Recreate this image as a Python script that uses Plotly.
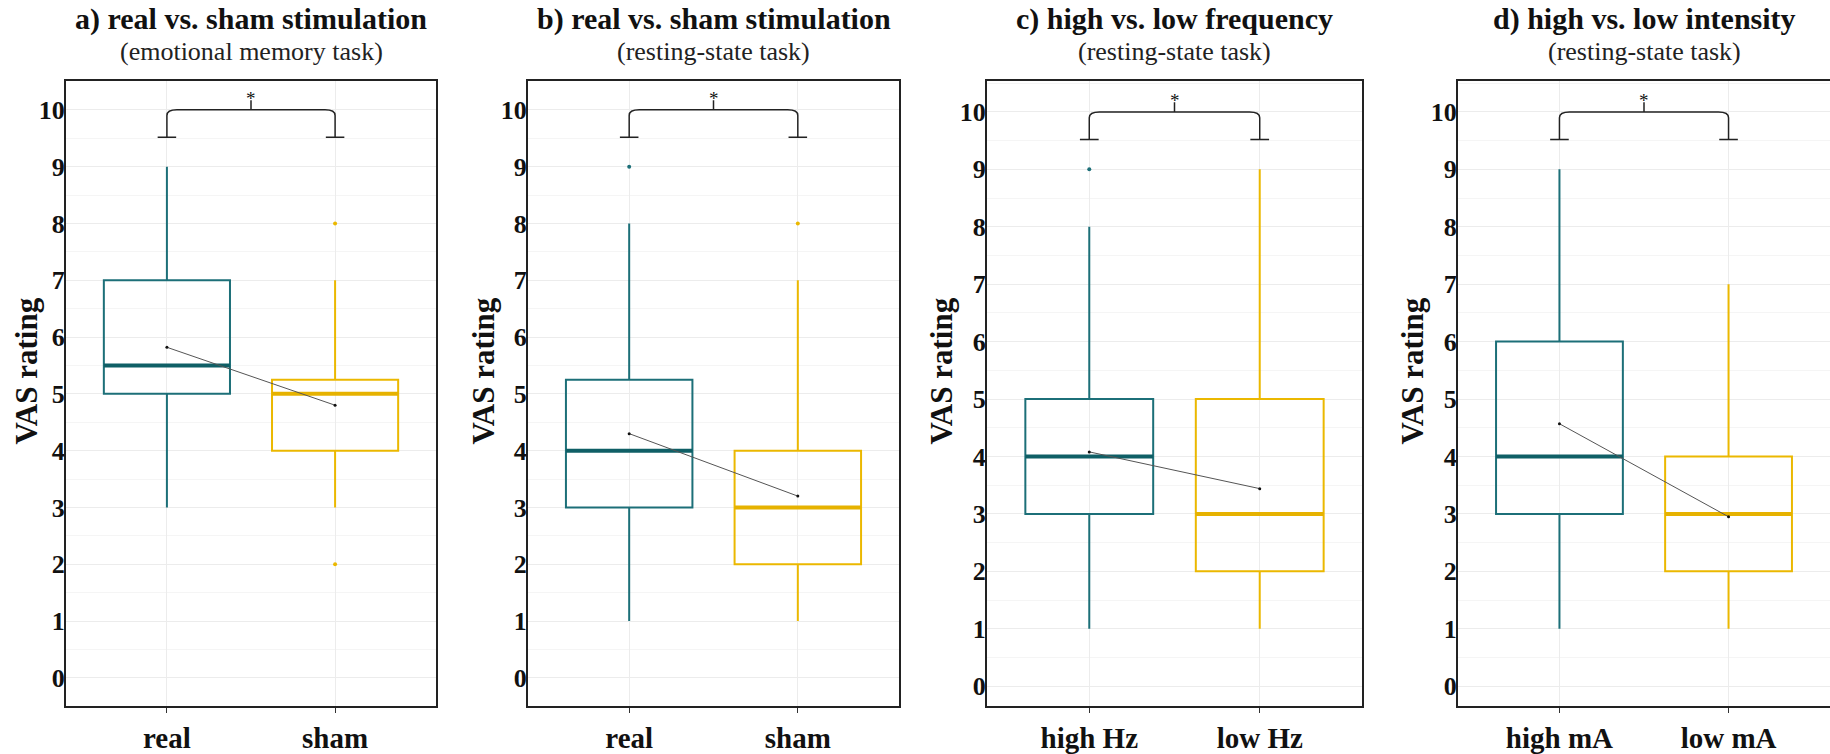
import plotly.graph_objects as go

W, H = 1830, 754

# ---- data -------------------------------------------------------------
titles = ["a) real vs. sham stimulation", "b) real vs. sham stimulation",
          "c) high vs. low frequency", "d) high vs. low intensity"]
subtitles = ["(emotional memory task)", "(resting-state task)",
             "(resting-state task)", "(resting-state task)"]
categories = [["real", "sham"], ["real", "sham"],
              ["high Hz", "low Hz"], ["high mA", "low mA"]]

# box statistics per panel: [first group, second group]
lower_whisker = [[3, 3], [1, 1], [1, 1], [1, 1]]
q1_values = [[5, 4], [3, 2], [3, 2], [3, 2]]
median_values = [[5.5, 5], [4, 3], [4, 3], [4, 3]]
q3_values = [[7, 5.25], [5.25, 4], [5, 5], [6, 4]]
upper_whisker = [[9, 7], [8, 7], [8, 9], [9, 7]]
mean_values = [[5.82, 4.80], [4.30, 3.20], [4.08, 3.44], [4.57, 2.95]]
outliers = [[[], [8, 2]], [[9], [8]], [[9], []], [[], []]]
significance = ["*", "*", "*", "*"]

y_ranges = [[-0.5, 10.5], [-0.5, 10.5], [-0.35, 10.53], [-0.35, 10.53]]
y_ticks = list(range(0, 11))

# ---- styling ----------------------------------------------------------
colors = ["#1c6f78", "#ebb800"]
median_colors = ["#0f5f66", "#e6b200"]
FONT = "Liberation Serif"
panel_px = [(66, 436), (528, 899), (987, 1362), (1458, 1830)]
ytitle_px = [27, 484, 942, 1413]
top_px, bottom_px = 82, 711
box_width = 0.75

def px_x(p):
    return p / W

def px_y(p):
    return 1 - p / H

fig = go.Figure()
annotations = []
shapes = []

for i in range(4):
    n = i + 1
    xa = "x" if n == 1 else f"x{n}"
    ya = "y" if n == 1 else f"y{n}"
    for g in range(2):
        pos = g + 1
        fig.add_trace(go.Box(
            x=[pos], q1=[q1_values[i][g]], median=[median_values[i][g]],
            q3=[q3_values[i][g]], lowerfence=[lower_whisker[i][g]],
            upperfence=[upper_whisker[i][g]],
            width=box_width, whiskerwidth=0,
            line=dict(color=colors[g], width=2), fillcolor="rgba(255,255,255,0)",
            boxpoints=False, xaxis=xa, yaxis=ya, showlegend=False,
            hoverinfo="skip"))
        # thicker median bar
        fig.add_trace(go.Scatter(
            x=[pos - box_width / 2, pos + box_width / 2],
            y=[median_values[i][g]] * 2, mode="lines",
            line=dict(color=median_colors[g], width=4),
            xaxis=xa, yaxis=ya, showlegend=False, hoverinfo="skip"))
        if outliers[i][g]:
            fig.add_trace(go.Scatter(
                x=[pos] * len(outliers[i][g]), y=outliers[i][g], mode="markers",
                marker=dict(color=colors[g], size=4),
                xaxis=xa, yaxis=ya, showlegend=False, hoverinfo="skip"))
    # line joining the group means
    fig.add_trace(go.Scatter(
        x=[1, 2], y=mean_values[i], mode="lines+markers",
        line=dict(color="#555555", width=1),
        marker=dict(color="#111111", size=3),
        xaxis=xa, yaxis=ya, showlegend=False, hoverinfo="skip"))

    # significance bracket
    top, drop, r = 10.0, 9.52, 0.1
    shapes.append(dict(
        type="path", xref=xa, yref=ya,
        path=(f"M 1,{drop} L 1,{top - r} Q 1,{top} 1.06,{top} "
              f"L 1.94,{top} Q 2,{top} 2,{top - r} L 2,{drop}"),
        line=dict(color="#222222", width=1.5)))
    for xc in (1, 2):
        shapes.append(dict(type="line", xref=xa, yref=ya,
                           x0=xc - 0.055, x1=xc + 0.055, y0=drop, y1=drop,
                           line=dict(color="#222222", width=1.5)))
    shapes.append(dict(type="line", xref=xa, yref=ya, x0=1.5, x1=1.5,
                       y0=top, y1=top + 0.17,
                       line=dict(color="#222222", width=1.5)))
    annotations.append(dict(text=significance[i], xref=xa, yref=ya, x=1.5,
                            y=top + 0.2, yanchor="middle", showarrow=False,
                            font=dict(family=FONT, size=19, color="#111111")))

    # panel titles
    cx = px_x((panel_px[i][0] + panel_px[i][1]) / 2)
    annotations.append(dict(text=f"<b>{titles[i]}</b>", xref="paper", yref="paper",
                            x=cx, y=px_y(19), xanchor="center", yanchor="middle",
                            showarrow=False,
                            font=dict(family=FONT, size=30, color="#111111")))
    annotations.append(dict(text=subtitles[i], xref="paper", yref="paper",
                            x=cx, y=px_y(52), xanchor="center", yanchor="middle",
                            showarrow=False,
                            font=dict(family=FONT, size=26, color="#222222")))
    annotations.append(dict(text="<b>VAS rating</b>", xref="paper", yref="paper",
                            x=px_x(ytitle_px[i]), y=px_y(374), textangle=-90,
                            xanchor="center", yanchor="middle", showarrow=False,
                            font=dict(family=FONT, size=31, color="#111111")))

    dom_x = [px_x(panel_px[i][0]), min(1.0, px_x(panel_px[i][1]))]
    dom_y = [px_y(bottom_px), px_y(top_px)]
    xkey = "xaxis" if n == 1 else f"xaxis{n}"
    ykey = "yaxis" if n == 1 else f"yaxis{n}"
    fig.update_layout({
        xkey: dict(domain=dom_x, anchor=ya, range=[0.4, 2.6],
                   tickvals=[1, 2], ticktext=categories[i],
                   showline=True, linecolor="#222222", linewidth=2, mirror=True,
                   ticks="outside", ticklen=5, tickcolor="#333333", tickwidth=1,
                   showgrid=True, gridcolor="#ececec", gridwidth=1,
                   zeroline=False,
                   tickfont=dict(family=FONT, size=29, color="#111111",
                                 weight="bold")),
        ykey: dict(domain=dom_y, anchor=xa, range=y_ranges[i],
                   tickvals=y_ticks, ticks="",
                   showline=True, linecolor="#222222", linewidth=2,
                   mirror=(n != 4),
                   showgrid=True, gridcolor="#ececec", gridwidth=1,
                   minor=dict(dtick=0.5, tick0=0, showgrid=True,
                              gridcolor="#f5f5f5", gridwidth=1),
                   zeroline=False, ticklabelstandoff=-6,
                   tickfont=dict(family=FONT, size=26, color="#111111",
                                 weight="bold")),
    })

fig.update_layout(
    width=W, height=H, margin=dict(l=0, r=0, t=0, b=0),
    paper_bgcolor="white", plot_bgcolor="white",
    annotations=annotations, shapes=shapes, showlegend=False,
)

fig.write_html("out.html")
